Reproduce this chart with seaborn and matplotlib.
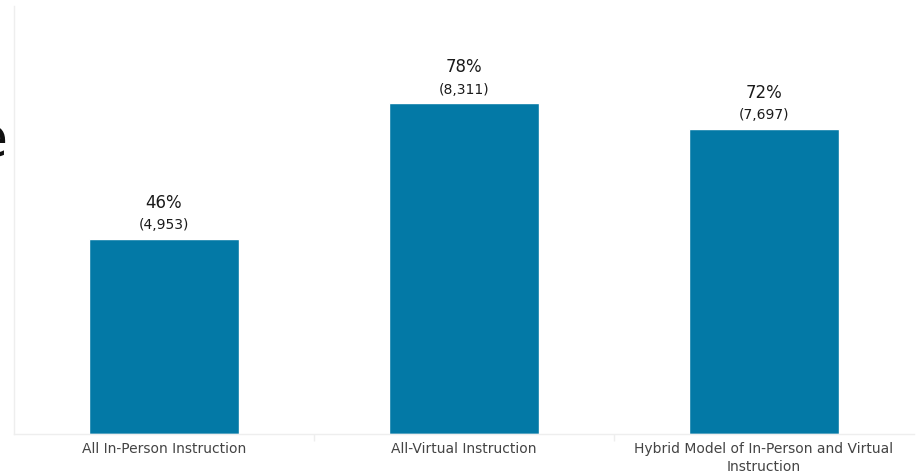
import matplotlib.pyplot as plt
import numpy as np
import pandas as pd
import seaborn as sns

sns.set_theme(style='white')
plt.rcParams['font.family'] = ['DejaVu Sans']

categories = ['All In-Person Instruction', 'All-Virtual Instruction',
              'Hybrid Model of In-Person and Virtual\nInstruction']
percents = [46, 78, 72]
counts = [4953, 8311, 7697]

df = pd.DataFrame({'Mode': categories, 'Percent': percents, 'Count': counts})

fig = plt.figure(figsize=(9.18, 4.76), dpi=100)
ax = fig.add_axes([14 / 918, 42 / 476, 900 / 918, 428 / 476])

sns.barplot(df, x='Mode', y='Percent', color='#0379a6', width=0.5,
            saturation=1, ax=ax)

ax.set_xlim(-0.5, 2.5)
ax.set_ylim(0, 101)
ax.set_xlabel('')
ax.set_ylabel('')
ax.set_yticks([])

# labels above each bar
for i, (p, c) in enumerate(zip(percents, counts)):
    ax.annotate('{}%'.format(p), (i, p), textcoords='offset points', xytext=(0, 26),
                ha='center', va='center', fontsize=12, color='#1a1a1a')
    ax.annotate('({:,})'.format(c), (i, p), textcoords='offset points', xytext=(0, 10),
                ha='center', va='center', fontsize=10, color='#1a1a1a')

for side in ['top', 'right']:
    ax.spines[side].set_visible(False)
for side in ['left', 'bottom']:
    ax.spines[side].set_color('#eeeeee')
    ax.spines[side].set_linewidth(1)

ax.set_xticks([0.5, 1.5], minor=True)
ax.tick_params(axis='x', which='minor', length=5, color='#eeeeee', bottom=True)
ax.tick_params(axis='x', which='major', length=0, pad=6, labelsize=10, labelcolor='#444444')
for lbl in ax.get_xticklabels():
    lbl.set_linespacing(1.35)

# cut-off text at the left edge
fig.text(8 / 918, 1 - 141 / 476, 'e', ha='right', va='center', fontsize=40, color='#111111')

fig.savefig('out.png', dpi=100)
